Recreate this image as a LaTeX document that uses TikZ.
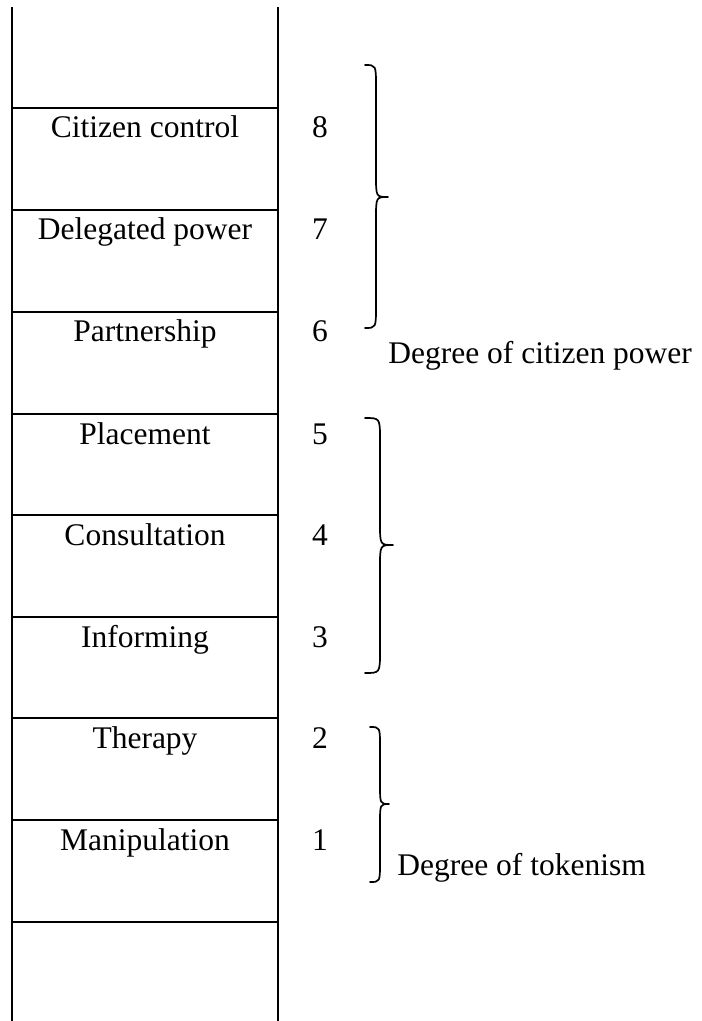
\documentclass[tikz,border=0pt]{standalone}
\usepackage{fontspec}
\setmainfont{Liberation Serif}
\begin{document}
\begin{tikzpicture}[x=0.5pt,y=-0.5pt,
  rung/.style={line width=1.1pt},
  lbl/.style={anchor=base, font=\fontsize{15.75}{18}\selectfont, inner sep=0pt},
  side/.style={anchor=base west, font=\fontsize{15.75}{18}\selectfont, inner sep=0pt},
  brc/.style={line width=0.85pt, line cap=round, line join=round}]
\useasboundingbox (0,0) rectangle (701,1021);
% ladder rails
\coordinate (lt) at (12,7);
\coordinate (lb) at (12,1021);
\coordinate (rt) at (278,7);
\coordinate (rb) at (278,1021);
\draw[rung] (lt) -- (lb);
\draw[rung] (rt) -- (rb);
% rungs
\foreach \y in {108,210,312,414,515,617,718,820,922}{
  \draw[rung] (12,\y) -- (278,\y);
}
% labels
\foreach \y/\t/\n in {108/Citizen control/8, 210/Delegated power/7, 312/Partnership/6,
  414/Placement/5, 515/Consultation/4, 617/Informing/3, 718/Therapy/2, 820/Manipulation/1}{
  \node[lbl] (l\n) at (145,\y+30) {\t};
  \node[lbl] (n\n) at (320,\y+30) {\n};
}
% braces
\newcommand{\mybrace}[7]{% xl, xs, xt, ytop, ytip, ybot, r
  \draw[brc] (#1,#4) .. controls (#2,#4) .. (#2,#4+#7) -- (#2,#5-#7)
    .. controls (#2,#5) .. (#3,#5) .. controls (#2,#5) .. (#2,#5+#7)
    -- (#2,#6-#7) .. controls (#2,#6) .. (#1,#6);
}
\mybrace{365}{376}{388}{65}{197}{328}{22}
\mybrace{365}{380}{393}{418}{545}{673}{22}
\mybrace{370}{380}{389}{727}{804}{882}{20}
\node[side] (cp) at (388,363) {Degree of citizen power};
\node[side] (tk) at (397,875) {Degree of tokenism};
\end{tikzpicture}
\end{document}
